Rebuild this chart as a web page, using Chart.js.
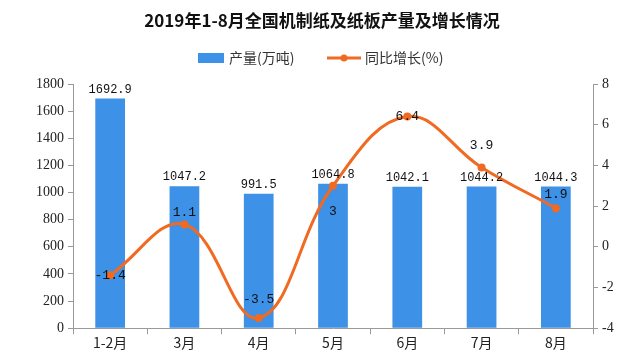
<!DOCTYPE html>
<html>
<head>
<meta charset="utf-8">
<script src="https://cdn.jsdelivr.net/npm/chart.js@4"></script>
<style>
  html, body { margin: 0; padding: 0; background: #fff; }
  #wrap { width: 643px; height: 363px; position: relative; }
</style>
</head>
<body>
<div id="wrap"><canvas id="chart"></canvas></div>
<script>
// chart values
const categories = ['1-2月', '3月', '4月', '5月', '6月', '7月', '8月'];
const output = [1692.9, 1047.2, 991.5, 1064.8, 1042.1, 1044.2, 1044.3];
const growth = [-1.4, 1.1, -3.5, 3, 6.4, 3.9, 1.9];
const leftTicks = [0, 200, 400, 600, 800, 1000, 1200, 1400, 1600, 1800];
const rightTicks = [-4, -2, 0, 2, 4, 6, 8];

// where each growth label sits relative to its point (px)
const growthLabelDy = [0, -12, -18, 26, 0, -22, -14];

const BAR = '#3d91e6';
const LINE = '#f06a22';
const CJK = '"Noto Sans CJK SC", "Liberation Serif", serif';
const NUM = '"Liberation Mono", monospace';

// title, legend and data labels
const decor = {
  id: 'decor',
  afterDatasetsDraw(chart) {
    const ctx = chart.ctx;
    ctx.save();
    ctx.fillStyle = '#111';
    ctx.textAlign = 'center';
    ctx.textBaseline = 'middle';
    ctx.font = 'bold 17px ' + CJK;
    ctx.fillText('2019年1-8月全国机制纸及纸板产量及增长情况', 322, 21);

    // legend
    ctx.font = '14px ' + CJK;
    ctx.fillStyle = BAR;
    ctx.fillRect(198, 53, 26, 10);
    ctx.fillStyle = '#333';
    ctx.textAlign = 'left';
    ctx.fillText('产量(万吨)', 229, 58);
    ctx.strokeStyle = LINE;
    ctx.lineWidth = 3;
    ctx.beginPath();
    ctx.moveTo(327, 58);
    ctx.lineTo(361, 58);
    ctx.stroke();
    ctx.fillStyle = LINE;
    ctx.beginPath();
    ctx.arc(344, 58, 3.5, 0, Math.PI * 2);
    ctx.fill();
    ctx.fillStyle = '#333';
    ctx.fillText('同比增长(%)', 365, 58);

    // bar labels
    ctx.textAlign = 'center';
    ctx.fillStyle = '#111';
    ctx.font = '12px ' + NUM;
    chart.getDatasetMeta(1).data.forEach((el, i) => {
      ctx.fillText(output[i].toFixed(1), el.x, el.y - 9);
    });
    // line labels
    ctx.font = '13px ' + NUM;
    chart.getDatasetMeta(0).data.forEach((el, i) => {
      ctx.fillText(String(growth[i]), el.x, el.y + growthLabelDy[i]);
    });
    ctx.restore();
  }
};

new Chart(document.getElementById('chart'), {
  data: {
    labels: categories,
    datasets: [
      {
        type: 'line',
        label: '同比增长(%)',
        data: growth,
        yAxisID: 'y2',
        borderColor: LINE,
        backgroundColor: LINE,
        borderWidth: 3,
        tension: 0.4,
        pointRadius: 4,
        pointBorderWidth: 0,
        order: 0
      },
      {
        type: 'bar',
        label: '产量(万吨)',
        data: output,
        yAxisID: 'y',
        backgroundColor: BAR,
        barPercentage: 0.4,
        categoryPercentage: 1,
        order: 1
      }
    ]
  },
  options: {
    responsive: true,
    maintainAspectRatio: false,
    animation: false,
    layout: { padding: { top: 84, left: 0, right: 0, bottom: 12 } },
    plugins: {
      legend: { display: false },
      title: { display: false },
      tooltip: { enabled: false }
    },
    scales: {
      x: {
        offset: true,
        grid: { display: true, drawOnChartArea: false, offset: true, tickLength: 6, color: '#999' },
        border: { color: '#999' },
        ticks: { color: '#222', font: { size: 14, family: CJK }, padding: 0 }
      },
      y: {
        position: 'left',
        min: 0,
        max: 1800,
        afterBuildTicks: (s) => { s.ticks = leftTicks.map(v => ({ value: v })); },
        afterFit: (s) => { s.width = 73; },
        grid: { drawOnChartArea: false, tickLength: 5, color: '#999' },
        border: { color: '#999' },
        ticks: { color: '#222', font: { size: 14, family: '"Liberation Serif", serif' }, padding: 4, callback: (v) => String(v) }
      },
      y2: {
        position: 'right',
        min: -4,
        max: 8,
        afterBuildTicks: (s) => { s.ticks = rightTicks.map(v => ({ value: v })); },
        afterFit: (s) => { s.width = 50; },
        grid: { drawOnChartArea: false, tickLength: 5, color: '#999' },
        border: { color: '#999' },
        ticks: { color: '#222', font: { size: 14, family: '"Liberation Serif", serif' }, padding: 4, callback: (v) => String(v) }
      }
    }
  },
  plugins: [decor]
});
</script>
</body>
</html>
